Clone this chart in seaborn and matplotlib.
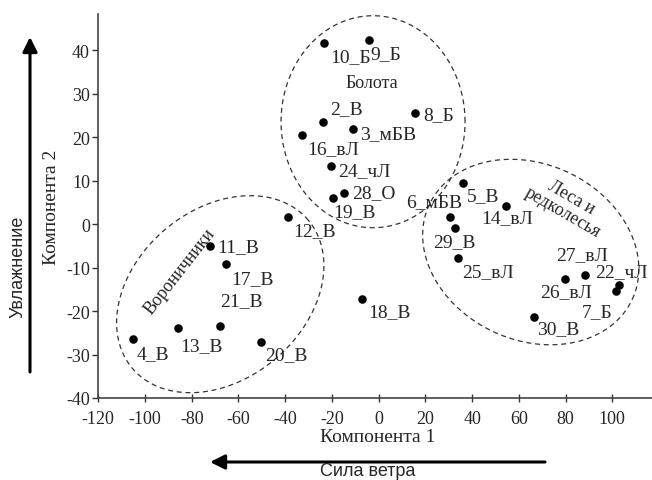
import numpy as np
import pandas as pd
from matplotlib import pyplot as plt
import seaborn as sns

# site scores on the first two components
names = ['10_Б', '9_Б', '2_В', '16_вЛ', '3_мБВ', '8_Б', '24_чЛ', '28_О', '19_В',
         '12_В', '5_В', '6_мБВ', '29_В', '14_вЛ', '25_вЛ', '27_вЛ', '26_вЛ',
         '22_чЛ', '7_Б', '30_В', '11_В', '17_В', '21_В', '13_В', '4_В', '20_В',
         '18_В']
comp1 = [-23.2, -4.0, -23.7, -32.9, -10.9, 15.5, -20.5, -14.8, -19.4,
         -38.6, 35.9, 30.5, 32.5, 54.3, 34.0, 88.3, 79.7,
         102.7, 101.4, 66.4, -72.1, -65.3, -68.1, -86.1, -105.1, -50.3,
         -7.1]
comp2 = [41.8, 42.3, 23.6, 20.6, 22.0, 25.7, 13.4, 7.2, 6.1,
         1.6, 9.5, 1.6, -0.8, 4.2, -7.8, -11.6, -12.6,
         -14.0, -15.4, -21.3, -5.1, -9.2, -23.4, -24.0, -26.4, -27.0,
         -17.3]

groups = ['Болота', 'Леса и\nредколесья', 'Вороничники']
xticks = list(range(-120, 101, 20))
yticks = list(range(-40, 41, 10))

df = pd.DataFrame({'c1': comp1, 'c2': comp2, 'name': names})

sns.set_style('ticks')
plt.rcParams['font.family'] = ['Liberation Serif', 'DejaVu Serif']
plt.rcParams['axes.unicode_minus'] = False

W, H = 652, 481
fig = plt.figure(figsize=(W / 100, H / 100), dpi=100)
ax = fig.add_axes([98.3 / W, 82 / H, (W - 98.3) / W, 384 / H])

sns.scatterplot(data=df, x='c1', y='c2', color='black', s=38,
                edgecolor='black', linewidth=0, ax=ax, zorder=3)

ax.set_xlim(-120, 117)
ax.set_ylim(-40, 48.4)
ax.set_xticks(xticks)
ax.set_yticks(yticks)
ax.set_xlabel('')
ax.set_ylabel('')
ax.tick_params(labelsize=13, length=4, width=1, color='#333333', pad=2)
ax.tick_params(axis='x', direction='inout', length=6, pad=6)
sns.despine(ax=ax)
for sp in ['left', 'bottom']:
    ax.spines[sp].set_color('#444444')
    ax.spines[sp].set_linewidth(1.2)

# label placement: (dx, dy) in pixels, horizontal alignment
place = {
    '10_Б': (6, -14, 'left'), '9_Б': (1, -13, 'left'), '2_В': (7, 13, 'left'),
    '16_вЛ': (5, -14, 'left'), '3_мБВ': (7, -5, 'left'), '8_Б': (8, -2, 'left'),
    '24_чЛ': (7, -5, 'left'), '28_О': (8, 0, 'left'), '19_В': (0, -14, 'left'),
    '12_В': (5, -13, 'left'), '5_В': (4, -13, 'left'), '6_мБВ': (-16, 16, 'center'),
    '29_В': (0, -14, 'center'), '14_вЛ': (2, -12, 'center'), '25_вЛ': (4, -13, 'left'),
    '27_вЛ': (-3, 20, 'center'), '26_вЛ': (1, -13, 'center'), '22_чЛ': (3, 13, 'center'),
    '7_Б': (-3, -20, 'right'), '30_В': (3, -12, 'left'), '11_В': (7, 0, 'left'),
    '17_В': (5, -14, 'left'), '21_В': (1, 25, 'left'), '13_В': (3, -17, 'left'),
    '4_В': (4, -15, 'left'), '20_В': (4, -13, 'left'), '18_В': (6, -12, 'left'),
}
for n, x, y in zip(names, comp1, comp2):
    dx, dy, ha = place[n]
    ax.annotate(n, (x, y), xytext=(dx, dy), textcoords='offset pixels',
                ha=ha, va='center', fontsize=14)


def dashed_ellipse(cx, cy, a, b, ang):
    # a, b in pixels, centre in data units
    t = np.linspace(0, 2 * np.pi, 300)
    th = np.deg2rad(ang)
    x0, y0 = ax.transData.transform((cx, cy))
    px = x0 + a * np.cos(t) * np.cos(th) - b * np.sin(t) * np.sin(th)
    py = y0 + a * np.cos(t) * np.sin(th) + b * np.sin(t) * np.cos(th)
    pts = ax.transData.inverted().transform(np.column_stack([px, py]))
    ax.plot(pts[:, 0], pts[:, 1], ls=(0, (4, 3)), color='#333333', lw=0.9,
            clip_on=False)


dashed_ellipse(-2.4, 23.6, 92, 106, 0)
dashed_ellipse(65.1, -6.4, 112, 88, -25)
dashed_ellipse(-67.8, -16.1, 115, 85, 40)


def ftext(x, y, s, **kw):
    fig.text(x / W, 1 - y / H, s, ha='center', va='center', **kw)


ftext(372, 84, groups[0], fontsize=13)
ftext(567, 205, groups[1], fontsize=13, rotation=-30, linespacing=1.0)
ftext(180, 272, groups[2], fontsize=13, rotation=52)

ftext(378, 438, 'Компонента 1', fontsize=14)
ftext(52, 207, 'Компонента 2', fontsize=14, rotation=90)
ftext(368, 472, 'Сила ветра', fontsize=13, family=['Liberation Sans', 'DejaVu Sans'])
ftext(18.5, 267, 'Увлажнение', fontsize=13, rotation=90,
      family=['Liberation Sans', 'DejaVu Sans'])

arrow = dict(arrowstyle='-|>', lw=2.2, color='black', mutation_scale=22,
             shrinkA=0, shrinkB=0)
ax.annotate('', xy=(30, H - 38), xytext=(30, H - 373),
            xycoords='figure pixels', textcoords='figure pixels', arrowprops=arrow)
ax.annotate('', xy=(210, H - 463), xytext=(545, H - 463),
            xycoords='figure pixels', textcoords='figure pixels', arrowprops=arrow)

fig.savefig('out.png', dpi=100)
